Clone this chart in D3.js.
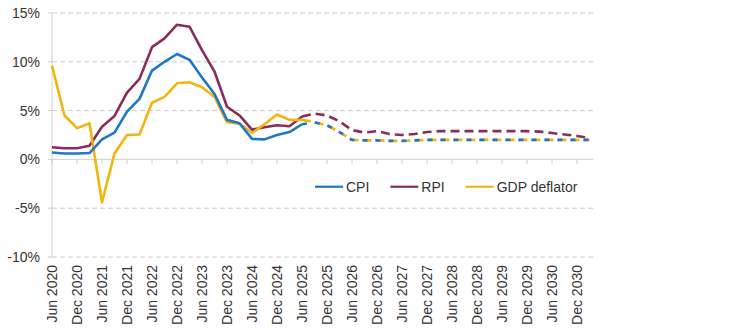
<!DOCTYPE html>
<html>
<head>
<meta charset="utf-8">
<script src="https://cdn.jsdelivr.net/npm/d3@7"></script>
<style>
  body { margin: 0; background: #fff; }
  svg text { font-family: "Liberation Sans", Arial, sans-serif; fill: #333; }
</style>
</head>
<body>
<svg id="chart"></svg>
<script>
// quarterly, Jun 2020 .. Mar 2031
const tickLabels = [
  "Jun 2020", "Dec 2020", "Jun 2021", "Dec 2021", "Jun 2022", "Dec 2022",
  "Jun 2023", "Dec 2023", "Jun 2024", "Dec 2024", "Jun 2025", "Dec 2025",
  "Jun 2026", "Dec 2026", "Jun 2027", "Dec 2027", "Jun 2028", "Dec 2028",
  "Jun 2029", "Dec 2029", "Jun 2030", "Dec 2030"
];
const cpi = [0.7, 0.6, 0.6, 0.65, 2.05, 2.75, 4.9, 6.2, 9.1, 10.0, 10.8, 10.2,
  8.4, 6.7, 4.05, 3.7, 2.1, 2.05, 2.5, 2.8, 3.6, 3.8, 3.5, 2.8,
  2.0, 1.95, 1.95, 1.9, 1.9, 1.95, 2.0, 2.0, 2.0, 2.0, 2.0, 2.0,
  2.0, 2.0, 2.0, 2.0, 2.0, 2.0, 2.0, 2.0];
const rpi = [1.25, 1.15, 1.15, 1.4, 3.35, 4.45, 6.85, 8.25, 11.5, 12.4, 13.8, 13.6,
  11.2, 9.0, 5.4, 4.5, 3.05, 3.3, 3.5, 3.4, 4.4, 4.7, 4.5, 3.9,
  3.0, 2.75, 2.9, 2.6, 2.5, 2.6, 2.8, 2.9, 2.9, 2.9, 2.9, 2.9,
  2.9, 2.9, 2.9, 2.85, 2.7, 2.55, 2.4, 2.2];
const gdpDeflator = [9.6, 4.5, 3.2, 3.7, -4.4, 0.6, 2.5, 2.55, 5.8, 6.4, 7.8, 7.9,
  7.4, 6.4, 3.8, 3.65, 2.7, 3.6, 4.6, 4.05, 4.05, 3.8, 3.5, 2.8,
  2.0, 1.95, 1.95, 1.9, 1.9, 1.95, 2.0, 2.0, 2.0, 2.0, 2.0, 2.0,
  2.0, 2.0, 2.0, 2.0, 2.0, 2.0, 2.0, 2.0];
const yTicks = [-10, -5, 0, 5, 10, 15];
const lastOutturn = 20; // forecast dashed from here

const width = 752, height = 336;
const margin = {top: 13, right: 162.5, bottom: 79, left: 52};
const colors = {cpi: "#1f77c6", rpi: "#8a2c5c", gdp: "#f2b50f"};

const svg = d3.select("#chart").attr("width", width).attr("height", height);

const x = d3.scaleLinear([0, cpi.length - 1], [margin.left, width - margin.right]);
const y = d3.scaleLinear([-10, 15], [height - margin.bottom, margin.top]);
const xEnd = x(cpi.length - 1) + 3.5;

// gridlines
svg.append("g")
  .selectAll("line")
  .data(yTicks.filter(d => d !== 0))
  .join("line")
  .attr("x1", x(0)).attr("x2", xEnd)
  .attr("y1", d => y(d)).attr("y2", d => y(d))
  .attr("stroke", "#c9c9c9")
  .attr("stroke-width", 1)
  .attr("stroke-dasharray", "5,3");

// y axis
svg.append("line")
  .attr("x1", x(0)).attr("x2", x(0))
  .attr("y1", y(15)).attr("y2", y(-10))
  .attr("stroke", "#d0d0d0");
svg.append("g")
  .selectAll("line")
  .data(yTicks)
  .join("line")
  .attr("x1", x(0) - 4).attr("x2", x(0))
  .attr("y1", d => y(d)).attr("y2", d => y(d))
  .attr("stroke", "#d0d0d0");
svg.append("g")
  .selectAll("text")
  .data(yTicks)
  .join("text")
  .attr("x", x(0) - 12)
  .attr("y", d => y(d))
  .attr("text-anchor", "end")
  .attr("dominant-baseline", "central")
  .attr("font-size", 14)
  .text(d => d + "%");

// x axis on the zero line
svg.append("line")
  .attr("x1", x(0)).attr("x2", xEnd)
  .attr("y1", y(0)).attr("y2", y(0))
  .attr("stroke", "#d0d0d0");
svg.append("g")
  .selectAll("line")
  .data(tickLabels)
  .join("line")
  .attr("x1", (d, i) => x(i * 2)).attr("x2", (d, i) => x(i * 2))
  .attr("y1", y(0)).attr("y2", y(0) + 5)
  .attr("stroke", "#d0d0d0");
svg.append("g")
  .selectAll("text")
  .data(tickLabels)
  .join("text")
  .attr("transform", (d, i) => `translate(${x(i * 2)},${y(-10) + 8}) rotate(-90)`)
  .attr("text-anchor", "end")
  .attr("dominant-baseline", "central")
  .attr("font-size", 14)
  .text(d => d);

const line = d3.line().x((d, i) => x(d.i)).y(d => y(d.v));
const pts = arr => arr.map((v, i) => ({i, v}));

function drawSeries(values, color, dash, offset) {
  const p = pts(values);
  svg.append("path")
    .attr("d", line(p.slice(0, lastOutturn + 1)))
    .attr("fill", "none")
    .attr("stroke", color)
    .attr("stroke-width", 2.6)
    .attr("stroke-linejoin", "round");
  svg.append("path")
    .attr("d", line(p.slice(lastOutturn)))
    .attr("fill", "none")
    .attr("stroke", color)
    .attr("stroke-width", 2.6)
    .attr("stroke-dasharray", dash)
    .attr("stroke-dashoffset", offset);
}

drawSeries(rpi, colors.rpi, "9,5", 0);
drawSeries(gdpDeflator, colors.gdp, "9,4", 0);
drawSeries(cpi, colors.cpi, "5,8", 0);

// legend
const legendItems = [
  {name: "CPI", color: colors.cpi},
  {name: "RPI", color: colors.rpi},
  {name: "GDP deflator", color: colors.gdp}
];
const legend = svg.append("g").attr("transform", `translate(315,${y(-2.8)})`);
let lx = 0;
legendItems.forEach(item => {
  const g = legend.append("g").attr("transform", `translate(${lx},0)`);
  g.append("line")
    .attr("x1", 0).attr("x2", 28)
    .attr("stroke", item.color)
    .attr("stroke-width", 2.2);
  const t = g.append("text")
    .attr("x", 31)
    .attr("dominant-baseline", "central")
    .attr("font-size", 14)
    .text(item.name);
  lx += 31 + t.node().getComputedTextLength() + 21;
});
</script>
</body>
</html>
